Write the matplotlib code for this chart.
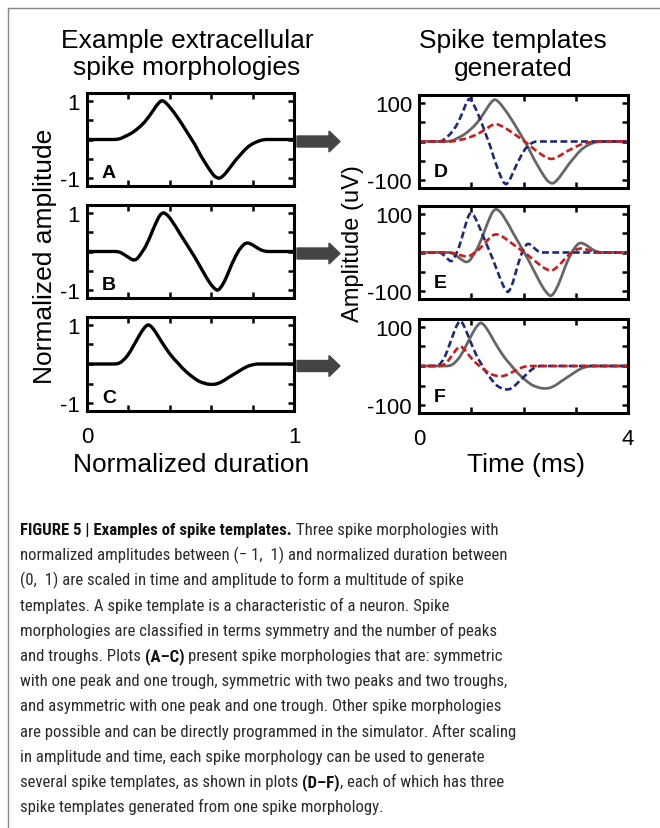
import matplotlib
matplotlib.use('Agg')
import numpy as np
import matplotlib.pyplot as plt
from matplotlib.patches import FancyArrow
from matplotlib.lines import Line2D
from matplotlib import font_manager
from matplotlib.font_manager import FontProperties

plt.rcParams['font.family'] = ['Liberation Sans', 'DejaVu Sans']

morph_a_x = [0, 0.134, 0.15, 0.165, 0.18, 0.2, 0.22, 0.24, 0.26, 0.28, 0.3, 0.32, 0.335, 0.348,
             0.356, 0.362, 0.37, 0.38, 0.393, 0.42, 0.45, 0.48, 0.5, 0.52, 0.55, 0.58, 0.6, 0.615,
             0.626, 0.636, 0.645, 0.655, 0.668, 0.68, 0.7, 0.72, 0.74, 0.76, 0.78, 0.8, 0.82,
             0.835, 0.85, 0.865, 1]
morph_a_y = [0, 0, 0.01, 0.03, 0.07, 0.12, 0.18, 0.26, 0.35, 0.46, 0.6, 0.75, 0.87, 0.95,
             0.99, 1.0, 0.99, 0.95, 0.88, 0.7, 0.47, 0.22, 0.05, -0.12, -0.42, -0.68, -0.84, -0.94,
             -0.98, -1.0, -0.99, -0.95, -0.88, -0.8, -0.66, -0.52, -0.4, -0.28, -0.18, -0.11, -0.06,
             -0.03, -0.01, 0, 0]

morph_b_x = [0, 0.142, 0.16, 0.18, 0.2, 0.215, 0.225, 0.235, 0.245, 0.255, 0.265, 0.28, 0.3, 0.32,
             0.335, 0.348, 0.358, 0.369, 0.378, 0.39, 0.401, 0.43, 0.45, 0.48, 0.5, 0.52, 0.55, 0.58,
             0.6, 0.615, 0.628, 0.638, 0.65, 0.665, 0.68, 0.7, 0.72, 0.735, 0.75, 0.762, 0.773,
             0.785, 0.8, 0.815, 0.83, 0.845, 0.86, 0.87, 1]
morph_b_y = [0, 0, -0.02, -0.08, -0.15, -0.2, -0.22, -0.21, -0.17, -0.1, -0.02, 0.1, 0.32, 0.58,
             0.76, 0.9, 0.97, 1.0, 0.98, 0.93, 0.86, 0.63, 0.45, 0.2, 0.03, -0.14, -0.42, -0.7,
             -0.86, -0.95, -1.0, -0.98, -0.9, -0.76, -0.58, -0.32, -0.1, 0.04, 0.14, 0.2, 0.22,
             0.21, 0.17, 0.12, 0.07, 0.03, 0.01, 0, 0]

morph_c_x = [0, 0.134, 0.15, 0.165, 0.18, 0.195, 0.21, 0.225, 0.24, 0.255, 0.268, 0.28, 0.29,
             0.297, 0.305, 0.315, 0.328, 0.345, 0.36, 0.38, 0.4, 0.42, 0.44, 0.46, 0.48, 0.5, 0.52,
             0.54, 0.56, 0.58, 0.595, 0.61, 0.625, 0.645, 0.665, 0.685, 0.71, 0.735, 0.76, 0.78,
             0.8, 0.822, 1]
morph_c_y = [0, 0, 0.01, 0.05, 0.12, 0.21, 0.33, 0.47, 0.61, 0.75, 0.86, 0.94, 0.99,
             1.0, 0.98, 0.93, 0.84, 0.7, 0.57, 0.41, 0.26, 0.13, 0.02, -0.1, -0.2, -0.29, -0.37,
             -0.44, -0.48, -0.51, -0.52, -0.52, -0.51, -0.47, -0.41, -0.34, -0.26, -0.18, -0.1, -0.05,
             -0.02, 0, 0]

morphs = [(morph_a_x, morph_a_y), (morph_b_x, morph_b_y), (morph_c_x, morph_c_y)]
letters_left = ['A', 'B', 'C']
letters_right = ['D', 'E', 'F']

# templates generated from each morphology: amplitude (uV), duration (ms), onset (ms)
tmpl_gray = [(108, 4.0, 0.0), (112, 4.0, 0.0), (110, 4.0, 0.0)]
tmpl_blue = [(110, 2.55, 0.04), (102, 2.7, 0.0), (115, 2.9, -0.07)]
tmpl_red = [(45, 3.9, 0.05), (47, 4.0, 0.0), (50, 2.5, 0.05)]

caption = [
    [("FIGURE 5 | Examples of spike templates.", True), ("Three spike morphologies with", False)],
    [("normalized amplitudes between (\u2212 1,  1) and normalized duration between", False)],
    [("(0,  1) are scaled in time and amplitude to form a multitude of spike", False)],
    [("templates. A spike template is a characteristic of a neuron. Spike", False)],
    [("morphologies are classified in terms symmetry and the number of peaks", False)],
    [("and troughs. Plots", False), ("(A\u2013C)", True), ("present spike morphologies that are: symmetric", False)],
    [("with one peak and one trough, symmetric with two peaks and two troughs,", False)],
    [("and asymmetric with one peak and one trough. Other spike morphologies", False)],
    [("are possible and can be directly programmed in the simulator. After scaling", False)],
    [("in amplitude and time, each spike morphology can be used to generate", False)],
    [("several spike templates, as shown in plots", False), ("(D\u2013F)", True), (", each of which has three", False)],
    [("spike templates generated from one spike morphology.", False)],
]

W, H = 660, 829
fig = plt.figure(figsize=(6.6, 8.29), dpi=100)


def fx(px):
    return px / W


def fy(py):
    return 1 - py / H


left_rows = [(94, 187), (206, 299), (318, 412)]
right_rows = [(96, 189), (207, 300), (320, 414)]


def style_axes(ax):
    for s in ax.spines.values():
        s.set_linewidth(2.2)
    ax.tick_params(direction='in', top=True, right=True, length=4, width=1.8,
                   labelsize=16, pad=5)
    ax.tick_params(axis='x', pad=11)


for i in range(3):
    top, bot = left_rows[i]
    ax = fig.add_axes([fx(87), fy(bot), fx(294) - fx(87), (bot - top) / H])
    mx, my = morphs[i]
    ax.plot(mx, my, color='black', lw=2.4, solid_joinstyle='round')
    ax.set_xlim(0, 1)
    ax.set_ylim(-1.2, 1.2)
    ax.set_xticks([0, 0.2, 0.4, 0.6, 0.8, 1])
    ax.set_yticks([-1, -0.5, 0, 0.5, 1])
    ax.set_yticklabels(['-1', '', '', '', '1'])
    if i == 2:
        ax.set_xticklabels(['0', '', '', '', '', '1'])
    else:
        ax.set_xticklabels([])
    style_axes(ax)
    ax.text(0.072, 0.1, letters_left[i], transform=ax.transAxes, fontsize=14,
            fontweight='bold', va='baseline')

    # arrow to the generated templates
    yz = (top + bot) / 2 + 2
    fig.patches.append(FancyArrow(fx(297), fy(yz), fx(43), 0, width=11 / H,
                                  head_width=21 / H, head_length=fx(11),
                                  length_includes_head=True, color='#444444',
                                  transform=fig.transFigure, figure=fig))

    top, bot = right_rows[i]
    ax = fig.add_axes([fx(419), fy(bot), fx(628) - fx(419), (bot - top) / H])
    for (amp, dur, on), col, ls, lw in [(tmpl_gray[i], '#666666', '-', 2.0),
                                        (tmpl_blue[i], '#1c2a7a', '--', 1.9),
                                        (tmpl_red[i], '#cc1b1b', '--', 1.9)]:
        t = np.r_[-1, on + dur * np.array(mx), 5]
        y = np.r_[0, amp * np.array(my), 0]
        line, = ax.plot(t, y, color=col, lw=lw, ls=ls, solid_joinstyle='round')
        if ls == '--':
            line.set_dashes((2.6, 1.3))
    ax.set_xlim(0, 4)
    ax.set_ylim(-120, 120)
    ax.set_xticks([0, 1, 2, 3, 4])
    ax.set_yticks([-100, -50, 0, 50, 100])
    ax.set_yticklabels(['-100', '', '', '', '100'])
    if i == 2:
        ax.set_xticklabels(['0', '', '', '', '4'])
    else:
        ax.set_xticklabels([])
    style_axes(ax)
    ax.text(0.072, 0.13, letters_right[i], transform=ax.transAxes, fontsize=14,
            fontweight='bold', va='baseline')

# titles and axis labels
fig.text(fx(187), fy(48), 'Example extracellular', ha='center', va='baseline', fontsize=19)
fig.text(fx(187), fy(75), 'spike morphologies', ha='center', va='baseline', fontsize=19)
fig.text(fx(513), fy(48), 'Spike templates', ha='center', va='baseline', fontsize=19)
fig.text(fx(513), fy(76), 'generated', ha='center', va='baseline', fontsize=19)
fig.text(fx(45), fy(256), 'Normalized amplitude', rotation=90, ha='center', va='center', fontsize=19)
fig.text(fx(353), fy(244), 'Amplitude (uV)', rotation=90, ha='center', va='center', fontsize=17)
fig.text(fx(191), fy(465), 'Normalized duration', ha='center', va='center', fontsize=19)
fig.text(fx(526), fy(465), 'Time (ms)', ha='center', va='center', fontsize=19)

# frame lines
fig.lines.append(Line2D([fx(8), 1], [fy(9), fy(9)], color='#888888', lw=1.0, transform=fig.transFigure))
fig.lines.append(Line2D([fx(8), fx(8)], [fy(9), 0], color='#888888', lw=1.0, transform=fig.transFigure))


# caption font: a narrow sans if one is installed
def is_narrow(f):
    return ('Narrow' in f.name or 'Condensed' in f.name
            or str(f.stretch) in ('condensed', 'semi-condensed', 'extra-condensed'))


def is_regular(f):
    return str(f.weight) in ('400', 'normal', 'regular', 'book')


def is_bold(f):
    return str(f.weight) in ('700', 'bold')


entries = [f for f in font_manager.fontManager.ttflist if f.style == 'normal']
cap_reg, cap_bold = None, None
for fam in ['Liberation Sans Narrow', 'Roboto Condensed', 'Open Sans Condensed', 'Noto Sans',
            'DejaVu Sans', 'Open Sans', 'Roboto', 'Lato', 'Inter']:
    regs = [f for f in entries if f.name == fam and is_narrow(f) and is_regular(f)]
    bolds = [f for f in entries if f.name == fam and is_narrow(f) and is_bold(f)]
    if regs and bolds:
        regs.sort(key=lambda f: str(f.stretch) != 'condensed')
        bolds.sort(key=lambda f: str(f.stretch) != 'condensed')
        cap_reg = FontProperties(fname=regs[0].fname)
        cap_bold = FontProperties(fname=bolds[0].fname)
        break
if cap_reg is None:
    cap_reg = FontProperties(family='Liberation Sans')
    cap_bold = FontProperties(family='Liberation Sans', weight='bold')

renderer = fig.canvas.get_renderer()


def text_width(s, size, bold=False):
    fp = (cap_bold if bold else cap_reg).copy()
    fp.set_size(size)
    t = fig.text(0, 0, s, fontproperties=fp)
    w = t.get_window_extent(renderer=renderer).width
    t.remove()
    return w


# size the caption so its two longest lines match the reference widths
w_ref = (text_width(caption[6][0][0], 10) + text_width(caption[8][0][0], 10)) / 2
cap_size = 10 * 489 / w_ref
space_w = text_width('x x', cap_size) - text_width('xx', cap_size)

for k, segs in enumerate(caption):
    y = fy(535 + k * 25.2)
    x = 20
    for j, (s, bold) in enumerate(segs):
        if j > 0 and not s.startswith(','):
            x += space_w
        fp = (cap_bold if bold else cap_reg).copy()
        fp.set_size(cap_size)
        t = fig.text(fx(x), y, s, fontproperties=fp, va='baseline',
                     color='#111111' if bold else '#2b2b2b')
        x += t.get_window_extent(renderer=renderer).width

fig.savefig('out.png', dpi=100)
